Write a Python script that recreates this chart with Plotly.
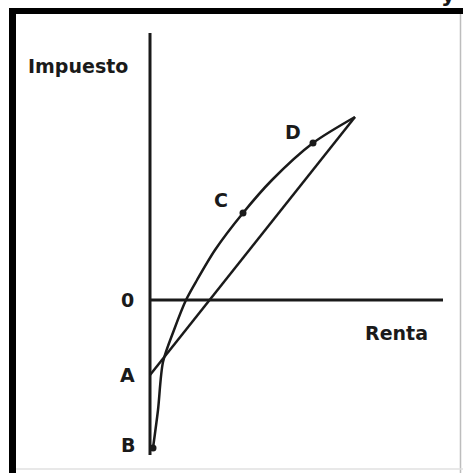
import plotly.graph_objects as go

# Tax schedules: a concave tax curve starting at B and a straight (linear) schedule starting at A
curve_renta = [0.15, 0.4, 0.65, 1.2, 1.8, 2.35, 3.25, 4.65, 6.1, 8.15, 10.25]
curve_impuesto = [-7.4, -5.5, -3.1, -1.5, 0.0, 1.0, 2.5, 4.35, 6.0, 7.85, 9.15]

line_renta = [0.0, 10.25]
line_impuesto = [-3.75, 9.15]

# Marked points on the curve
point_names = ["C", "D"]
point_renta = [4.65, 8.15]
point_impuesto = [4.35, 7.85]

# Axis extents
y_axis_top, y_axis_bottom = 13.35, -7.75
x_axis_right = 14.65

W, H = 463, 473
FONT = "DejaVu Sans"
INK = "#1a1a1a"

fig = go.Figure()

# Axes
fig.add_trace(go.Scatter(x=[0, 0], y=[y_axis_bottom, y_axis_top], mode="lines",
                         line=dict(color=INK, width=3), hoverinfo="skip"))
fig.add_trace(go.Scatter(x=[0, x_axis_right], y=[0, 0], mode="lines",
                         line=dict(color=INK, width=3), hoverinfo="skip"))

# Straight schedule from A
fig.add_trace(go.Scatter(x=line_renta, y=line_impuesto, mode="lines",
                         line=dict(color=INK, width=2.5), hoverinfo="skip"))

# Curved schedule from B
fig.add_trace(go.Scatter(x=curve_renta, y=curve_impuesto, mode="lines",
                         line=dict(color=INK, width=2.5, shape="spline", smoothing=0.8),
                         hoverinfo="skip"))

# Dots at C, D and B
fig.add_trace(go.Scatter(x=point_renta + [curve_renta[0]], y=point_impuesto + [curve_impuesto[0]],
                         mode="markers", marker=dict(color=INK, size=7), hoverinfo="skip"))

lbl = dict(family=FONT, size=19, color=INK)
annotations = [
    dict(x=-1.15, y=0.0, text="<b>0</b>"),
    dict(x=-1.15, y=line_impuesto[0], text="<b>A</b>"),
    dict(x=-1.1, y=-7.25, text="<b>B</b>"),
    dict(x=point_renta[0] - 1.1, y=point_impuesto[0] + 0.65, text="<b>C</b>"),
    dict(x=point_renta[1] - 1.0, y=point_impuesto[1] + 0.55, text="<b>D</b>"),
    dict(x=12.3, y=-1.65, text="<b>Renta</b>"),
    dict(x=-3.62, y=11.7, text="<b>Impuesto</b>"),
]
for a in annotations:
    a.update(xref="x", yref="y", showarrow=False, font=lbl, xanchor="center", yanchor="middle")

# Letter running off the top edge
annotations.append(dict(xref="paper", yref="paper", x=448 / W, y=1 - 9 / H, text="<b>y</b>",
                        showarrow=False, font=dict(family=FONT, size=22, color=INK),
                        xanchor="center", yanchor="bottom"))

def px_x(p):
    return p / W

def px_y(p):
    return 1 - p / H

shapes = [
    # thick left and top borders
    dict(type="rect", xref="paper", yref="paper", x0=px_x(9), x1=px_x(16),
         y0=px_y(473), y1=px_y(8), fillcolor="black", line=dict(width=0), layer="above"),
    dict(type="rect", xref="paper", yref="paper", x0=px_x(9), x1=px_x(463),
         y0=px_y(14), y1=px_y(8), fillcolor="black", line=dict(width=0), layer="above"),
    # thin right and bottom borders
    dict(type="line", xref="paper", yref="paper", x0=px_x(460.5), x1=px_x(460.5),
         y0=px_y(14), y1=px_y(473), line=dict(color="#bdbdbd", width=1.5)),
    dict(type="line", xref="paper", yref="paper", x0=px_x(16), x1=px_x(463),
         y0=px_y(469), y1=px_y(469), line=dict(color="#e0e0e0", width=1.5)),
]

fig.update_layout(
    width=W, height=H, margin=dict(l=0, r=0, t=0, b=0),
    paper_bgcolor="white", plot_bgcolor="white", showlegend=False,
    xaxis=dict(range=[-150 / 20, (W - 150) / 20], visible=False, fixedrange=True),
    yaxis=dict(range=[(300 - H) / 20, 300 / 20], visible=False, fixedrange=True),
    annotations=annotations, shapes=shapes,
)

fig.write_html("out.html")
